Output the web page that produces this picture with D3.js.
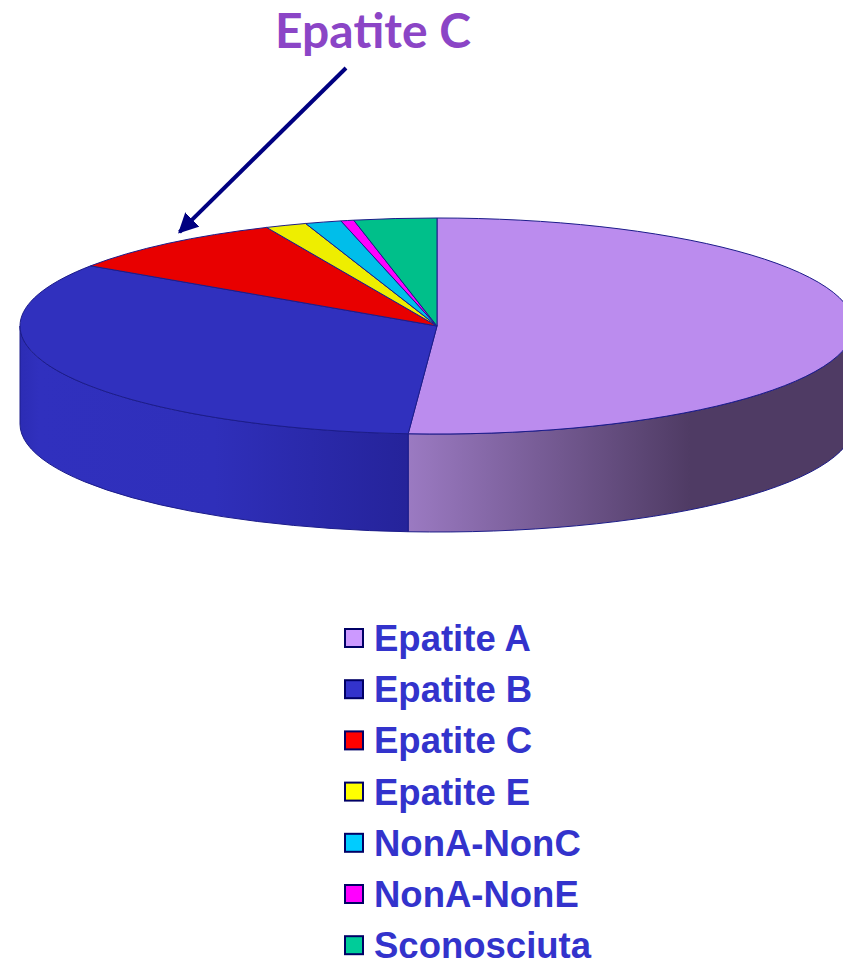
<!DOCTYPE html>
<html>
<head>
<meta charset="utf-8">
<script src="https://cdn.jsdelivr.net/npm/d3@7"></script>
<style>
  body { margin: 0; background: #fff; }
  svg { display: block; }
</style>
</head>
<body>
<svg id="chart" width="843" height="964"></svg>
<script>
// data (percent)
var categories = ['Epatite A', 'Epatite B', 'Epatite C', 'Epatite E', 'NonA-NonC', 'NonA-NonE', 'Sconosciuta'];
var values = [51.1, 33.3, 8.9, 1.6, 1.4, 0.5, 3.2];
var topColors = ['#BB8CEE', '#3030BE', '#E80000', '#EEEE00', '#00BEEA', '#FF00FF', '#00BF8A'];
var legendColors = ['#CC99FF', '#3333CC', '#FF0000', '#FFFF00', '#00CCFF', '#FF00FF', '#00CC99'];

var svg = d3.select('#chart');

// pie geometry (flattened ellipse + depth)
var cx = 437, cy = 326, rx = 417, ry = 108, depth = 98;

function pt(a, dy) {
    return [cx + rx * Math.sin(a), cy - ry * Math.cos(a) + (dy || 0)];
}

var pie = d3.pie().sort(null).value(function(d){ return d; });
var arcs = pie(values);

var defs = svg.append('defs');
var gA = defs.append('linearGradient').attr('id', 'sideA')
    .attr('gradientUnits', 'userSpaceOnUse')
    .attr('x1', 408).attr('x2', 690).attr('y1', 0).attr('y2', 0);
gA.append('stop').attr('offset', 0).attr('stop-color', '#9B7AC2');
gA.append('stop').attr('offset', 1).attr('stop-color', '#4F3B64');

var gB = defs.append('linearGradient').attr('id', 'sideB')
    .attr('gradientUnits', 'userSpaceOnUse')
    .attr('x1', 20).attr('x2', 408).attr('y1', 0).attr('y2', 0);
gB.append('stop').attr('offset', 0).attr('stop-color', '#2C2CB4');
gB.append('stop').attr('offset', 0.05).attr('stop-color', '#3030BE');
gB.append('stop').attr('offset', 0.5).attr('stop-color', '#2F2FBA');
gB.append('stop').attr('offset', 1).attr('stop-color', '#25239A');

var sideFill = ['url(#sideA)', 'url(#sideB)'];

// front sides (only the part between 90 and 270 degrees shows)
var sides = [];
arcs.forEach(function(d, i){
    var a0 = Math.max(d.startAngle, Math.PI / 2),
        a1 = Math.min(d.endAngle, 3 * Math.PI / 2);
    if (a1 > a0) sides.push({a0: a0, a1: a1, i: i});
});

svg.append('g').selectAll('path')
    .data(sides)
    .enter()
    .append('path')
    .attr('d', function(d){
        var p0 = pt(d.a0), p1 = pt(d.a1), q1 = pt(d.a1, depth), q0 = pt(d.a0, depth);
        return 'M' + p0 + 'A' + rx + ',' + ry + ' 0 0 1 ' + p1 +
            'L' + q1 + 'A' + rx + ',' + ry + ' 0 0 0 ' + q0 + 'Z';
    })
    .style('fill', function(d){ return sideFill[d.i] || topColors[d.i]; })
    .style('stroke', '#1C1C8A')
    .style('stroke-width', 1);

// top slices
svg.append('g').selectAll('path')
    .data(arcs)
    .enter()
    .append('path')
    .attr('d', function(d){
        var p0 = pt(d.startAngle), p1 = pt(d.endAngle);
        var large = (d.endAngle - d.startAngle) > Math.PI ? 1 : 0;
        return 'M' + cx + ',' + cy + 'L' + p0 + 'A' + rx + ',' + ry + ' 0 ' + large + ' 1 ' + p1 + 'Z';
    })
    .style('fill', function(d, i){ return topColors[i]; })
    .style('stroke', '#1C1C8A')
    .style('stroke-width', 1)
    .style('stroke-linejoin', 'round');

// callout
defs.append('marker').attr('id', 'head')
    .attr('viewBox', '0 0 10 10').attr('refX', 9).attr('refY', 5)
    .attr('markerWidth', 5).attr('markerHeight', 5)
    .attr('markerUnits', 'strokeWidth')
    .attr('orient', 'auto')
    .append('path').attr('d', 'M0,0L10,5L0,10Z').style('fill', '#000080');

// arrow ends just above the outer rim of the Epatite C slice
var cMid = (arcs[2].startAngle + arcs[2].endAngle) / 2;
var tip = pt(cMid + 0.035, -9);
svg.append('line')
    .attr('x1', 346).attr('y1', 68)
    .attr('x2', tip[0]).attr('y2', tip[1])
    .style('stroke', '#000080')
    .style('stroke-width', 4)
    .attr('marker-end', 'url(#head)');

svg.append('text')
    .attr('x', 373).attr('y', 48)
    .attr('text-anchor', 'middle')
    .style('font-family', 'Lato, "Open Sans", sans-serif')
    .style('font-weight', 'bold')
    .style('font-size', '48px')
    .style('fill', '#8B45C6')
    .text(categories[2]);

// legend
var legend = svg.append('g').selectAll('g')
    .data(categories)
    .enter()
    .append('g')
    .attr('transform', function(d, i){ return 'translate(345,' + (629 + i * 51.2) + ')'; });

legend.append('rect')
    .attr('width', 18).attr('height', 18)
    .style('fill', function(d, i){ return legendColors[i]; })
    .style('stroke', '#000066')
    .style('stroke-width', 2);

legend.append('text')
    .attr('x', 29).attr('y', 22)
    .style('font-family', '"Liberation Sans", Arial, sans-serif')
    .style('font-weight', 'bold')
    .style('font-size', '36.5px')
    .style('fill', '#3333CC')
    .text(function(d){ return d; });
</script>
</body>
</html>
